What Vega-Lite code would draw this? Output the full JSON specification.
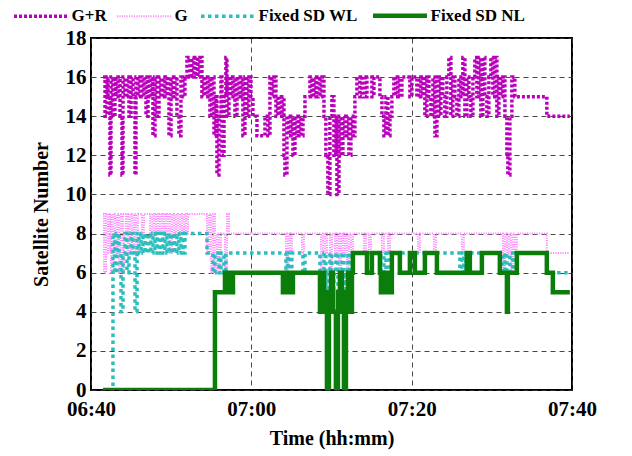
{
 "$schema": "https://vega.github.io/schema/vega-lite/v6.json",
 "width": 481,
 "height": 352,
 "autosize": {"type": "none"},
 "padding": {"left": 91, "top": 38, "right": 60, "bottom": 66},
 "background": "white",
 "config": {
  "view": {"stroke": "black", "strokeWidth": 2},
  "font": "Liberation Serif",
  "axis": {
   "labelFont": "Liberation Serif", "labelFontWeight": "bold", "labelFontSize": 21, "labelColor": "black",
   "titleFont": "Liberation Serif", "titleFontWeight": "bold", "titleFontSize": 20, "titleColor": "black",
   "gridColor": "#333333", "gridDash": [5, 4], "gridWidth": 1, "gridOpacity": 0.9,
   "domain": false, "ticks": false
  },
  "legend": {
   "orient": "none", "legendX": -58.5, "legendY": -31, "direction": "horizontal",
   "symbolType": "stroke", "symbolSize": 2916, "labelFont": "Liberation Serif", "labelFontWeight": "bold",
   "labelFontSize": 17, "labelColor": "black", "labelOffset": 22, "columnPadding": 5, "title": null
  }
 },
 "datasets": {
  "GR": [
   {"t":1.50,"v":16},{"t":1.75,"v":14},{"t":2.00,"v":16},{"t":2.12,"v":15},{"t":2.37,"v":11},{"t":2.49,"v":16},{"t":2.74,"v":14},{"t":2.99,"v":16},{"t":3.12,"v":15},{"t":3.37,"v":16},{"t":3.62,"v":14},{"t":3.87,"v":11},{"t":3.99,"v":16},{"t":4.24,"v":15},{"t":4.49,"v":16},{"t":4.74,"v":14},{"t":4.99,"v":16},{"t":5.24,"v":15},{"t":5.49,"v":11},{"t":5.61,"v":16},{"t":5.86,"v":15},{"t":6.11,"v":16},{"t":6.36,"v":15},{"t":6.61,"v":16},{"t":6.86,"v":14},{"t":7.11,"v":16},{"t":7.36,"v":15},{"t":7.61,"v":16},{"t":7.73,"v":13},{"t":7.98,"v":16},{"t":8.23,"v":14},{"t":8.48,"v":16},{"t":8.73,"v":15},{"t":8.98,"v":16},{"t":9.23,"v":15},{"t":9.48,"v":16},{"t":9.73,"v":13},{"t":9.98,"v":16},{"t":10.23,"v":15},{"t":10.47,"v":16},{"t":10.72,"v":14},{"t":10.97,"v":13},{"t":11.22,"v":16},{"t":11.47,"v":15},{"t":11.72,"v":16},{"t":11.97,"v":17},{"t":12.35,"v":16},{"t":12.59,"v":17},{"t":12.84,"v":16},{"t":13.09,"v":17},{"t":13.34,"v":16},{"t":13.59,"v":17},{"t":13.84,"v":15},{"t":14.09,"v":16},{"t":14.34,"v":15},{"t":14.59,"v":16},{"t":14.84,"v":14},{"t":15.09,"v":16},{"t":15.34,"v":13},{"t":15.59,"v":15},{"t":15.71,"v":11},{"t":15.96,"v":14},{"t":16.21,"v":16},{"t":16.34,"v":12},{"t":16.59,"v":15},{"t":16.83,"v":17},{"t":16.96,"v":14},{"t":17.21,"v":16},{"t":17.46,"v":15},{"t":17.71,"v":16},{"t":17.96,"v":14},{"t":18.21,"v":16},{"t":18.46,"v":15},{"t":18.71,"v":16},{"t":18.95,"v":13},{"t":19.20,"v":16},{"t":19.45,"v":14},{"t":19.70,"v":16},{"t":19.95,"v":15},{"t":20.20,"v":14},{"t":20.70,"v":13},{"t":21.70,"v":14},{"t":22.07,"v":13},{"t":22.32,"v":16},{"t":22.57,"v":15},{"t":22.82,"v":16},{"t":23.07,"v":14},{"t":23.32,"v":15},{"t":23.57,"v":14},{"t":23.82,"v":15},{"t":24.07,"v":12},{"t":24.19,"v":11},{"t":24.44,"v":14},{"t":24.69,"v":13},{"t":24.94,"v":14},{"t":25.19,"v":12},{"t":25.44,"v":14},{"t":25.69,"v":13},{"t":25.94,"v":14},{"t":26.19,"v":13},{"t":26.44,"v":14},{"t":26.69,"v":15},{"t":27.31,"v":16},{"t":27.56,"v":15},{"t":27.81,"v":16},{"t":28.06,"v":15},{"t":28.31,"v":16},{"t":28.56,"v":15},{"t":28.81,"v":16},{"t":29.06,"v":14},{"t":29.30,"v":12},{"t":29.55,"v":10},{"t":29.80,"v":14},{"t":30.05,"v":15},{"t":30.30,"v":12},{"t":30.55,"v":14},{"t":30.68,"v":10},{"t":30.93,"v":14},{"t":31.18,"v":12},{"t":31.42,"v":14},{"t":31.67,"v":13},{"t":31.92,"v":14},{"t":32.17,"v":12},{"t":32.42,"v":14},{"t":32.67,"v":13},{"t":32.92,"v":15},{"t":33.17,"v":16},{"t":33.54,"v":15},{"t":33.79,"v":16},{"t":34.17,"v":15},{"t":34.42,"v":16},{"t":35.04,"v":15},{"t":35.29,"v":16},{"t":36.04,"v":15},{"t":36.29,"v":14},{"t":36.54,"v":13},{"t":36.79,"v":15},{"t":37.04,"v":13},{"t":37.29,"v":14},{"t":37.53,"v":15},{"t":37.78,"v":16},{"t":38.03,"v":15},{"t":38.28,"v":16},{"t":38.53,"v":15},{"t":38.78,"v":16},{"t":39.78,"v":15},{"t":40.03,"v":16},{"t":40.65,"v":15},{"t":40.90,"v":16},{"t":41.15,"v":15},{"t":41.40,"v":16},{"t":41.65,"v":14},{"t":41.90,"v":16},{"t":42.15,"v":15},{"t":42.40,"v":14},{"t":42.65,"v":16},{"t":42.90,"v":13},{"t":43.15,"v":16},{"t":43.40,"v":14},{"t":43.64,"v":16},{"t":43.89,"v":15},{"t":44.14,"v":14},{"t":44.39,"v":16},{"t":44.64,"v":17},{"t":44.89,"v":14},{"t":45.14,"v":16},{"t":45.39,"v":15},{"t":45.64,"v":14},{"t":45.89,"v":16},{"t":46.14,"v":15},{"t":46.39,"v":17},{"t":46.64,"v":14},{"t":46.89,"v":16},{"t":47.14,"v":15},{"t":47.39,"v":14},{"t":47.64,"v":16},{"t":47.88,"v":17},{"t":48.13,"v":15},{"t":48.38,"v":17},{"t":48.63,"v":14},{"t":48.88,"v":17},{"t":49.13,"v":15},{"t":49.38,"v":14},{"t":49.63,"v":16},{"t":49.88,"v":17},{"t":50.13,"v":15},{"t":50.38,"v":17},{"t":50.63,"v":14},{"t":50.88,"v":16},{"t":51.13,"v":15},{"t":51.38,"v":16},{"t":51.63,"v":14},{"t":51.88,"v":12},{"t":52.00,"v":11},{"t":52.25,"v":14},{"t":52.50,"v":16},{"t":52.87,"v":15},{"t":56.86,"v":14},{"t":59.73,"v":14}
  ],
  "G": [
   {"t":1.50,"v":9},{"t":1.62,"v":6},{"t":1.87,"v":9},{"t":2.12,"v":7},{"t":2.37,"v":9},{"t":2.49,"v":6},{"t":2.74,"v":9},{"t":2.99,"v":7},{"t":3.24,"v":9},{"t":3.49,"v":6},{"t":3.74,"v":9},{"t":3.99,"v":6},{"t":4.12,"v":8},{"t":4.36,"v":9},{"t":4.61,"v":7},{"t":4.86,"v":9},{"t":5.11,"v":7},{"t":5.36,"v":9},{"t":5.61,"v":7},{"t":5.86,"v":9},{"t":6.36,"v":8},{"t":6.61,"v":9},{"t":7.36,"v":8},{"t":7.61,"v":9},{"t":7.86,"v":8},{"t":8.11,"v":9},{"t":8.35,"v":8},{"t":8.60,"v":9},{"t":8.85,"v":8},{"t":9.10,"v":9},{"t":9.35,"v":8},{"t":9.60,"v":9},{"t":9.85,"v":7},{"t":10.10,"v":9},{"t":10.35,"v":8},{"t":10.60,"v":9},{"t":10.85,"v":8},{"t":11.10,"v":9},{"t":11.35,"v":8},{"t":11.60,"v":9},{"t":11.85,"v":8},{"t":12.10,"v":9},{"t":14.47,"v":7},{"t":14.71,"v":9},{"t":14.96,"v":6},{"t":15.21,"v":9},{"t":15.46,"v":6},{"t":15.71,"v":8},{"t":15.96,"v":6},{"t":16.21,"v":8},{"t":16.71,"v":6},{"t":16.96,"v":9},{"t":17.21,"v":8},{"t":24.32,"v":6},{"t":24.57,"v":8},{"t":24.82,"v":7},{"t":25.06,"v":8},{"t":26.31,"v":7},{"t":26.56,"v":8},{"t":28.68,"v":6},{"t":28.93,"v":8},{"t":29.18,"v":7},{"t":29.43,"v":8},{"t":29.80,"v":6},{"t":30.05,"v":8},{"t":30.43,"v":7},{"t":30.68,"v":8},{"t":30.93,"v":6},{"t":31.18,"v":8},{"t":31.42,"v":7},{"t":31.67,"v":8},{"t":31.92,"v":6},{"t":32.17,"v":8},{"t":32.42,"v":7},{"t":32.67,"v":8},{"t":34.04,"v":7},{"t":34.29,"v":8},{"t":34.67,"v":7},{"t":34.92,"v":8},{"t":36.29,"v":7},{"t":36.54,"v":8},{"t":37.04,"v":7},{"t":37.29,"v":8},{"t":40.78,"v":7},{"t":41.03,"v":8},{"t":42.77,"v":7},{"t":43.02,"v":8},{"t":46.26,"v":7},{"t":46.51,"v":8},{"t":51.38,"v":6},{"t":51.63,"v":8},{"t":51.88,"v":7},{"t":52.12,"v":8},{"t":52.37,"v":6},{"t":52.62,"v":8},{"t":52.87,"v":7},{"t":53.12,"v":8},{"t":56.86,"v":7},{"t":59.73,"v":7}
  ],
  "WL": [
   {"t":1.50,"v":0},{"t":2.74,"v":8},{"t":2.99,"v":6},{"t":3.24,"v":8},{"t":3.49,"v":7},{"t":3.74,"v":4},{"t":3.99,"v":7},{"t":4.24,"v":8},{"t":4.49,"v":6},{"t":4.74,"v":7},{"t":4.99,"v":8},{"t":5.24,"v":7},{"t":5.49,"v":4},{"t":5.74,"v":8},{"t":5.99,"v":7},{"t":6.24,"v":8},{"t":6.48,"v":7},{"t":6.73,"v":8},{"t":6.98,"v":7},{"t":7.23,"v":8},{"t":7.48,"v":7},{"t":7.73,"v":8},{"t":7.98,"v":7},{"t":8.23,"v":8},{"t":8.48,"v":7},{"t":8.73,"v":8},{"t":8.98,"v":7},{"t":9.23,"v":8},{"t":9.48,"v":7},{"t":9.73,"v":8},{"t":9.98,"v":7},{"t":10.23,"v":8},{"t":10.47,"v":7},{"t":10.72,"v":8},{"t":10.97,"v":7},{"t":11.22,"v":8},{"t":11.47,"v":7},{"t":11.72,"v":8},{"t":14.47,"v":7},{"t":15.21,"v":6},{"t":15.46,"v":7},{"t":15.96,"v":6},{"t":16.21,"v":7},{"t":16.59,"v":6},{"t":16.83,"v":7},{"t":24.32,"v":6},{"t":24.57,"v":7},{"t":24.82,"v":6},{"t":25.06,"v":7},{"t":26.44,"v":6},{"t":26.69,"v":7},{"t":28.56,"v":6},{"t":28.81,"v":5},{"t":29.06,"v":7},{"t":29.30,"v":5},{"t":29.55,"v":6},{"t":29.80,"v":7},{"t":30.05,"v":5},{"t":30.30,"v":6},{"t":30.55,"v":7},{"t":30.80,"v":5},{"t":31.05,"v":6},{"t":31.30,"v":7},{"t":31.55,"v":5},{"t":31.80,"v":6},{"t":32.05,"v":7},{"t":32.30,"v":6},{"t":32.55,"v":7},{"t":36.16,"v":6},{"t":36.54,"v":7},{"t":36.79,"v":6},{"t":37.16,"v":7},{"t":46.01,"v":6},{"t":46.26,"v":7},{"t":46.51,"v":6},{"t":46.76,"v":7},{"t":51.38,"v":6},{"t":51.63,"v":7},{"t":51.88,"v":6},{"t":52.25,"v":7},{"t":52.62,"v":6},{"t":52.99,"v":7},{"t":56.86,"v":6},{"t":59.73,"v":6}
  ],
  "NL": [
   {"t":1.50,"v":0},{"t":15.46,"v":5},{"t":16.71,"v":6},{"t":16.83,"v":5},{"t":16.96,"v":6},{"t":17.08,"v":5},{"t":17.33,"v":6},{"t":17.46,"v":5},{"t":17.71,"v":6},{"t":23.94,"v":5},{"t":24.19,"v":6},{"t":24.32,"v":5},{"t":24.57,"v":6},{"t":24.69,"v":5},{"t":24.94,"v":6},{"t":25.06,"v":5},{"t":25.19,"v":6},{"t":28.56,"v":4},{"t":28.81,"v":6},{"t":29.06,"v":5},{"t":29.30,"v":4},{"t":29.43,"v":0},{"t":29.68,"v":5},{"t":29.93,"v":6},{"t":30.18,"v":4},{"t":30.55,"v":0},{"t":30.80,"v":5},{"t":31.05,"v":6},{"t":31.30,"v":4},{"t":31.55,"v":0},{"t":31.80,"v":5},{"t":32.05,"v":6},{"t":32.30,"v":4},{"t":32.55,"v":6},{"t":32.67,"v":7},{"t":34.42,"v":6},{"t":35.04,"v":7},{"t":36.04,"v":6},{"t":36.16,"v":5},{"t":36.41,"v":6},{"t":36.54,"v":5},{"t":36.79,"v":6},{"t":36.91,"v":5},{"t":37.16,"v":6},{"t":37.29,"v":5},{"t":37.53,"v":7},{"t":38.53,"v":6},{"t":39.78,"v":7},{"t":40.40,"v":6},{"t":41.65,"v":7},{"t":43.15,"v":6},{"t":46.89,"v":7},{"t":47.26,"v":6},{"t":48.76,"v":7},{"t":51.00,"v":6},{"t":51.88,"v":4},{"t":52.00,"v":6},{"t":53.12,"v":7},{"t":56.86,"v":6},{"t":57.61,"v":5},{"t":59.73,"v":5}
  ]
 },
 "encoding": {
  "x": {"field": "t", "type": "quantitative", "scale": {"domain": [0, 60], "nice": false},
   "axis": {"values": [0, 20, 40, 60], "labelExpr": "utcFormat((400 + datum.value) * 60000, '%H:%M')", "title": "Time (hh:mm)", "labelPadding": 8, "titlePadding": 9, "labelFlush": false}},
  "y": {"field": "v", "type": "quantitative", "scale": {"domain": [0, 18], "nice": false},
   "axis": {"values": [0, 2, 4, 6, 8, 10, 12, 14, 16, 18], "title": "Satellite Number", "labelPadding": 5, "titlePadding": 14}}
 },
 "layer": [
  {"data": {"name": "G"}, "mark": {"type": "line", "interpolate": "step-after", "clip": true, "strokeWidth": 2},
   "encoding": {
    "color": {"datum": "G", "scale": {"domain": ["G+R", "G", "Fixed SD WL", "Fixed SD NL"], "range": ["#BB00BB", "#FF8CFF", "#2CBDBD", "#0B7D0B"]},
     "legend": {"symbolStrokeWidth": 3.5, "encode": {"symbols": {"update": {"strokeWidth": {"signal": "datum.value === 'G' ? 2 : (datum.value === 'Fixed SD NL' ? 4.5 : 3.5)"}}}}}},
    "strokeDash": {"datum": "G", "scale": {"domain": ["G+R", "G", "Fixed SD WL", "Fixed SD NL"], "range": [[3, 2], [1.2, 1.2], [3.5, 3.5], [1, 0]]}}
   }},
  {"data": {"name": "WL"}, "mark": {"type": "line", "interpolate": "step-after", "clip": true, "strokeWidth": 3.5},
   "encoding": {"color": {"datum": "Fixed SD WL"}, "strokeDash": {"datum": "Fixed SD WL"}}},
  {"data": {"name": "NL"}, "mark": {"type": "line", "interpolate": "step-after", "clip": true, "strokeWidth": 4.5},
   "encoding": {"color": {"datum": "Fixed SD NL"}, "strokeDash": {"datum": "Fixed SD NL"}}},
  {"data": {"name": "GR"}, "mark": {"type": "line", "interpolate": "step-after", "clip": true, "strokeWidth": 3.5},
   "encoding": {"color": {"datum": "G+R"}, "strokeDash": {"datum": "G+R"}}}
 ]
}
